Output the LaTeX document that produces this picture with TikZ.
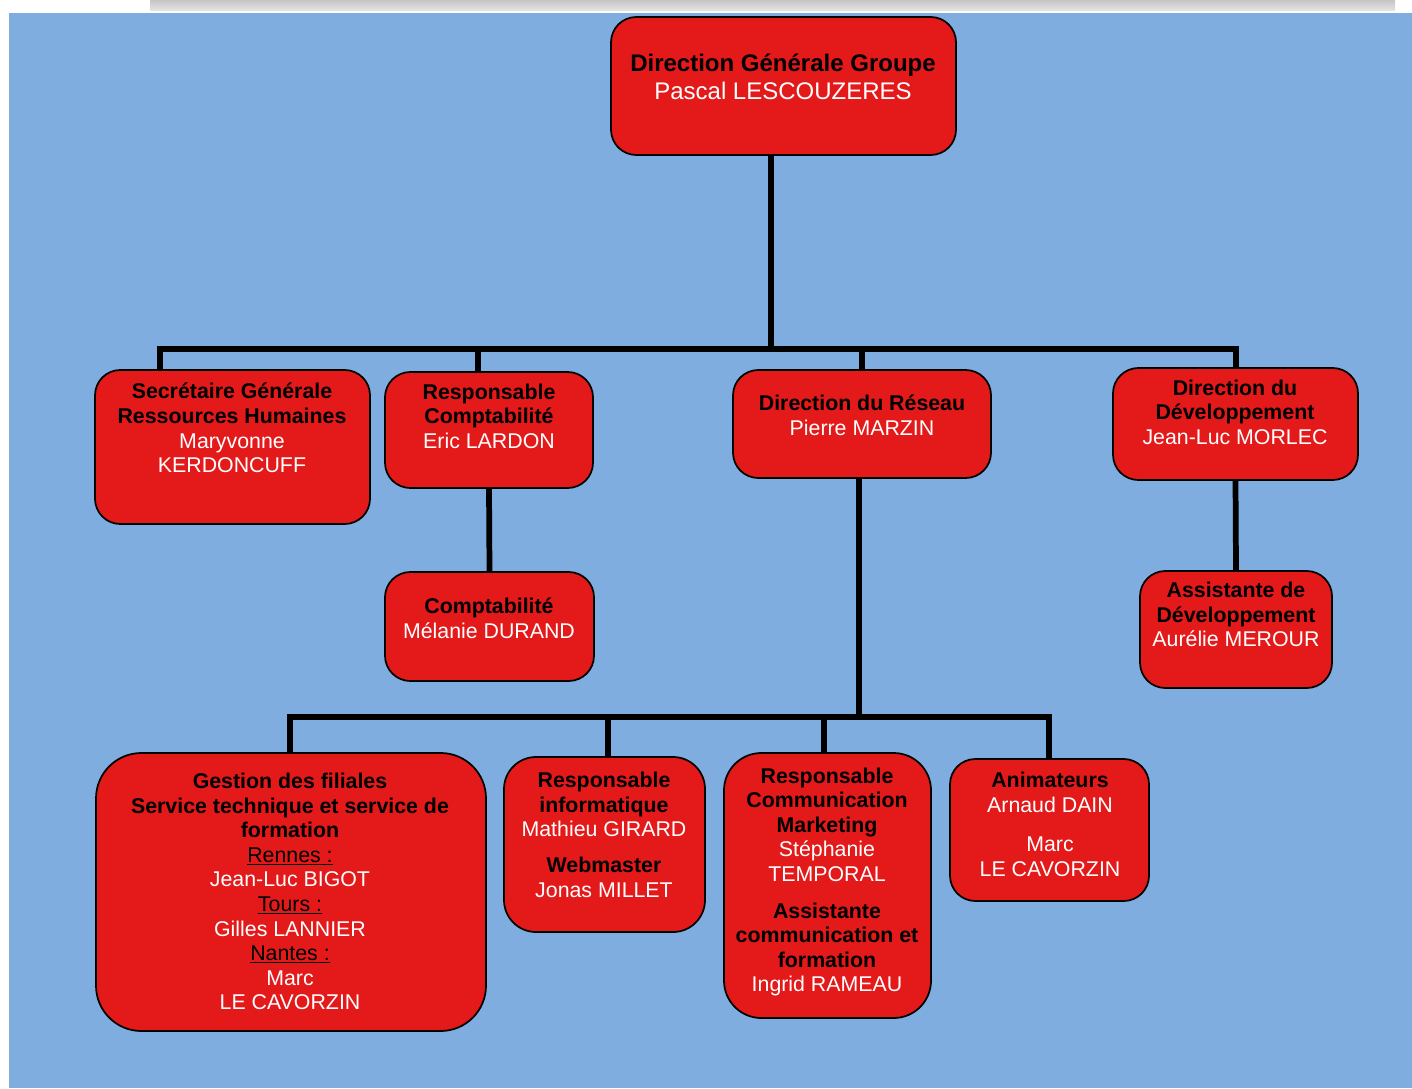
\documentclass[tikz,border=0pt]{standalone}
\usepackage{fontspec}
\setmainfont{Liberation Sans}
\usetikzlibrary{fit,shadings}
\definecolor{bgblue}{RGB}{127,173,224}
\definecolor{boxred}{RGB}{227,25,26}
\newcommand\hd[1]{\textcolor{black}{\textbf{#1}}}
\newcommand\ul[1]{\textcolor{black}{\underline{#1}}}
\tikzset{
  box/.style={draw=black, line width=1.3pt, fill=boxred, inner sep=0pt, rounded corners=19pt},
  txt/.style={align=center, font=\fontsize{16}{18.45}\selectfont, text=white, inner sep=0pt},
  link/.style={line width=4.3pt, black, line join=miter},
}
\begin{document}
\begin{tikzpicture}[x=0.75pt,y=-0.75pt]
\useasboundingbox (0,0) rectangle (1412,1088);
% background
\shade[top color=gray!45, bottom color=gray!20] (150,0) rectangle (1395,11);
\fill[bgblue] (9,13) rectangle (1412,1088);

% junction coordinates
\coordinate (b1l) at (160,349);
\coordinate (b1c) at (478,349);
\coordinate (b1m) at (771,349);
\coordinate (b1r) at (862,349);
\coordinate (b1e) at (1236,349);
\coordinate (b2l) at (290,717);
\coordinate (b2a) at (608,717);
\coordinate (b2b) at (824,717);
\coordinate (b2m) at (859,717);
\coordinate (b2e) at (1049,717);

% boxes
\node[box, fit={(611,17)(956,155)}] (top) {};
\node[box, fit={(95,370)(370,524)}] (sec) {};
\node[box, fit={(385,372)(593,488)}] (rc) {};
\node[box, fit={(733,370)(991,478)}] (res) {};
\node[box, fit={(1113,368)(1358,480)}] (dev) {};
\node[box, fit={(385,572)(594,681)}] (cpt) {};
\node[box, fit={(1140,571)(1332,688)}] (adev) {};
\node[box, rounded corners=34pt, fit={(96,753)(486,1031)}] (fil) {};
\node[box, rounded corners=24pt, fit={(504,757)(705,932)}] (info) {};
\node[box, rounded corners=28pt, fit={(724,753)(931,1018)}] (comm) {};
\node[box, fit={(950,759)(1149,901)}] (anim) {};

% connectors
\draw[link] (top.south -| b1m) -- (b1m);
\draw[link] (b1l |- sec.north) -- (b1l) -- (b1e) -- (b1e |- dev.north);
\draw[link] (b1c) -- (b1c |- rc.north);
\draw[link] (b1r) -- (b1r |- res.north);
\draw[link] (rc.south) -- (cpt.north);
\draw[link] (dev.south) -- (adev.north);
\draw[link] (res.south -| b2m) -- (b2m);
\draw[link] (b2l |- fil.north) -- (b2l) -- (b2e) -- (b2e |- anim.north);
\draw[link] (b2a) -- (b2a |- info.north);
\draw[link] (b2b) -- (b2b |- comm.north);

% texts
\node[txt, font=\fontsize{18}{21}\selectfont] (ttop) at (783,77) {\hd{Direction Générale Groupe}\\Pascal LESCOUZERES};
\node[txt] (tsec) at (232,428) {\hd{Secrétaire Générale}\\\hd{Ressources Humaines}\\Maryvonne\\KERDONCUFF};
\node[txt] (trc) at (489,416) {\hd{Responsable}\\\hd{Comptabilité}\\Eric LARDON};
\node[txt] (tres) at (862,415.5) {\hd{Direction du Réseau}\\Pierre MARZIN};
\node[txt] (tdev) at (1235,412) {\hd{Direction du}\\\hd{Développement}\\Jean-Luc MORLEC};
\node[txt] (tcpt) at (489,618.5) {\hd{Comptabilité}\\Mélanie DURAND};
\node[txt] (tadev) at (1236,614.5) {\hd{Assistante de}\\\hd{Développement}\\Aurélie MEROUR};
\node[txt] (tfil) at (290,891.5) {\hd{Gestion des filiales}\\\hd{Service technique et service de}\\\hd{formation}\\\ul{Rennes :}\\Jean-Luc BIGOT\\\ul{Tours :}\\Gilles LANNIER\\\ul{Nantes :}\\Marc\\LE CAVORZIN};
\node[txt] (tinfo) at (604,835) {\hd{Responsable}\\\hd{informatique}\\Mathieu GIRARD\\[8.5pt]\hd{Webmaster}\\Jonas MILLET};
\node[txt] (tcomm) at (827,882) {\hd{Responsable}\\\hd{Communication}\\\hd{Marketing}\\Stéphanie\\TEMPORAL\\[9pt]\hd{Assistante}\\\hd{communication et}\\\hd{formation}\\Ingrid RAMEAU};
\node[txt] (tanim) at (1050,824.5) {\hd{Animateurs}\\Arnaud DAIN\\[11pt]Marc\\LE CAVORZIN};
\end{tikzpicture}
\end{document}
